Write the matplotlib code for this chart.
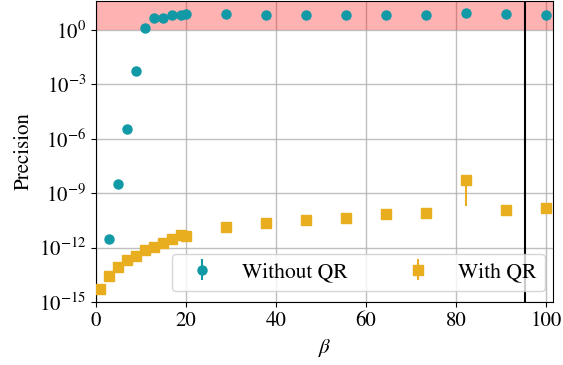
import numpy as np
import matplotlib
matplotlib.use('Agg')
import matplotlib.pyplot as plt

plt.rcParams['font.family'] = 'STIXGeneral'
plt.rcParams['mathtext.fontset'] = 'stix'
plt.rcParams['font.size'] = 15

# beta values
beta = [1, 3, 5, 7, 9, 11, 13, 15, 17, 19, 20,
        28.9, 37.8, 46.7, 55.6, 64.4, 73.3, 82.2, 91.1, 100]

# precision without QR
prec_noqr = [5e-15, 2.8e-12, 3.2e-9, 3.5e-6, 5.2e-3, 1.35, 4.8, 4.8, 7.1, 6.8, 7.9,
             7.4, 6.8, 7.1, 6.8, 7.1, 6.8, 8.3, 7.6, 6.8]

# precision with QR
prec_qr = [5.1e-15, 2.7e-14, 8.5e-14, 1.95e-13, 3.5e-13, 7.2e-13, 1.1e-12, 1.8e-12,
           2.95e-12, 4.9e-12, 4.6e-12, 1.4e-11, 2.2e-11, 3.2e-11, 4.1e-11, 6.8e-11,
           8.5e-11, 5.4e-9, 1.2e-10, 1.5e-10]

# error bars for with QR (lower, upper)
err_qr_lo = [0] * 17 + [5.2e-9, 0, 0]
err_qr_hi = [0] * 17 + [4.4e-9, 0, 0]
err_noqr = [0] * 20

beta_cut = 95.3

fig = plt.figure(figsize=(5.63, 3.65), dpi=100)
ax = fig.add_axes([0.1705, 0.173, 0.8112, 0.824])

# unstable region
ax.axhspan(1, 40, color='red', alpha=0.3, lw=0, zorder=1)

ax.errorbar(beta, prec_noqr, yerr=err_noqr, fmt='o', color='#1199a6',
            markersize=6.5, elinewidth=1.5, label='Without QR', zorder=3)
ax.errorbar(beta, prec_qr, yerr=[err_qr_lo, err_qr_hi], fmt='s', color='#e8ae1f',
            markersize=7, elinewidth=1.5, label='With QR', zorder=3)

ax.axvline(beta_cut, color='black', lw=1.5, zorder=4)

ax.set_yscale('log')
ax.set_xlim(0, 101.5)
ax.set_ylim(1e-15, 40)
ax.set_yticks([1e-15, 1e-12, 1e-9, 1e-6, 1e-3, 1e0])
ax.yaxis.set_minor_locator(matplotlib.ticker.NullLocator())
ax.set_xticks([0, 20, 40, 60, 80, 100])

ax.grid(True, color='#b0b0b0', lw=1, alpha=0.8)
ax.set_axisbelow(True)

ax.set_xlabel(r'$\beta$')
ax.set_ylabel('Precision')

ax.legend(ncol=2, loc='lower left', bbox_to_anchor=(0.1664, 0.0365),
          handletextpad=0.86, columnspacing=2.25, borderaxespad=0, fontsize=15.5)

fig.savefig('out.png', dpi=100)
